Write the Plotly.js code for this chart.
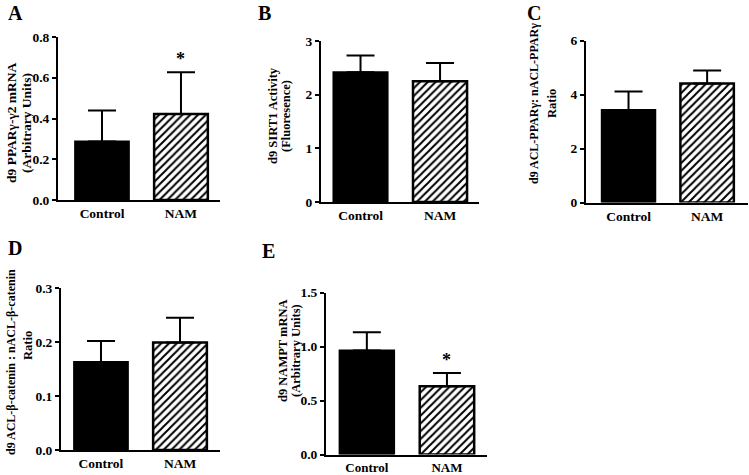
<!DOCTYPE html>
<html>
<head>
<meta charset="utf-8">
<script src="https://cdn.plot.ly/plotly-3.0.1.min.js"></script>
<style>html,body{margin:0;padding:0;background:#fff;}#chart{width:749px;height:475px;}</style>
</head>
<body>
<div id="chart"></div>
<script>
// ---- data ----
const groups = ['Control', 'NAM'];
const meanA = [0.287, 0.422];   // d9 PPARγ-γ2 mRNA
const semA  = [0.152, 0.205];
const meanB = [2.42, 2.25];     // d9 SIRT1 Activity
const semB  = [0.31, 0.34];
const meanC = [3.43, 4.41];     // d9 ACL-PPARγ : nACL-PPARγ ratio
const semC  = [0.68, 0.48];
const meanD = [0.163, 0.199];   // d9 ACL-β-catenin : nACL-β-catenin ratio
const semD  = [0.039, 0.046];
const meanE = [0.963, 0.631];   // d9 NAMPT mRNA
const semE  = [0.17, 0.123];
const yTicksA = [0, 0.2, 0.4, 0.6, 0.8];
const yTicksB = [0, 1, 2, 3];
const yTicksC = [0, 2, 4, 6];
const yTicksD = [0, 0.1, 0.2, 0.3];
const yTicksE = [0, 0.5, 1.0, 1.5];
const sigA = [false, true];
const sigE = [false, true];

// ---- styling ----
const W = 749, H = 475;
const FONT = 'Liberation Serif, Times New Roman, serif';
const px = v => v / W;
const py = v => 1 - v / H;

function barTraces(mean, sem, xa, ya) {
  const common = {type: 'bar', xaxis: xa, yaxis: ya, width: 0.68, showlegend: false, hoverinfo: 'skip'};
  const ctrl = Object.assign({}, common, {
    x: [0], y: [mean[0]],
    marker: {color: '#000000', line: {color: '#000000', width: 2}},
    error_y: {type: 'data', symmetric: false, array: [sem[0]], arrayminus: [0], color: '#000000', thickness: 2, width: 14}
  });
  const nam = Object.assign({}, common, {
    x: [1], y: [mean[1]],
    marker: {color: '#ffffff', line: {color: '#000000', width: 2.5},
             pattern: {shape: '/', fgcolor: '#000000', bgcolor: '#ffffff', size: 5.5, solidity: 0.35}},
    error_y: {type: 'data', symmetric: false, array: [sem[1]], arrayminus: [0], color: '#000000', thickness: 2, width: 14}
  });
  return [ctrl, nam];
}

function xAxis(domain, range, anchor, fs) {
  return {
    domain: domain, range: range, anchor: anchor,
    tickvals: [0, 1], ticktext: groups, ticks: '',
    showline: true, linecolor: '#000', linewidth: 2, showgrid: false, zeroline: false,
    tickfont: {family: FONT, size: fs, color: '#000', weight: 'bold'}, fixedrange: true
  };
}
function yAxis(domain, range, ticks, fmt, anchor) {
  return {
    domain: domain, range: range, anchor: anchor,
    tickvals: ticks, tickformat: fmt, ticks: 'outside', ticklen: 4, tickwidth: 2, tickcolor: '#000',
    showline: true, linecolor: '#000', linewidth: 2, showgrid: false, zeroline: false,
    tickfont: {family: FONT, size: 13.5, color: '#000', weight: 'bold'}, fixedrange: true
  };
}

const data = [].concat(
  barTraces(meanA, semA, 'x', 'y'),
  barTraces(meanB, semB, 'x2', 'y2'),
  barTraces(meanC, semC, 'x3', 'y3'),
  barTraces(meanD, semD, 'x4', 'y4'),
  barTraces(meanE, semE, 'x5', 'y5')
);

function vtitle(text, x, y, size) {
  return {text: text, xref: 'paper', yref: 'paper', x: px(x), y: py(y), xanchor: 'center', yanchor: 'middle',
          textangle: -90, showarrow: false, font: {family: FONT, size: size, color: '#000', weight: 'bold'}};
}
function letter(text, x, y) {
  return {text: text, xref: 'paper', yref: 'paper', x: px(x), y: py(y), xanchor: 'left', yanchor: 'middle',
          showarrow: false, font: {family: FONT, size: 20, color: '#000', weight: 'bold'}};
}
function stars(sig, mean, sem, xa, ya) {
  const out = [];
  sig.forEach((s, i) => {
    if (s) out.push({text: '*', x: i, y: mean[i] + sem[i], xref: xa, yref: ya, xanchor: 'center', yanchor: 'bottom',
                     yshift: 1, showarrow: false, font: {family: FONT, size: 18, color: '#000', weight: 'bold'}});
  });
  return out;
}

const annotations = [
  letter('A', 6, 13), letter('B', 256, 13), letter('C', 525, 13),
  letter('D', 6, 248), letter('E', 260, 251),
  vtitle('d9 PPARγ-γ2 mRNA', 12, 123, 13.5), vtitle('(Arbitrary Units)', 27, 123, 13.5),
  vtitle('d9 SIRT1 Activity', 273, 116, 12.5), vtitle('(Fluoresence)', 286, 116, 12.5),
  vtitle('d9 ACL-PPARγ: nACL-PPARγ', 534, 104, 12), vtitle('Ratio', 552, 104, 12.5),
  vtitle('d9 ACL-β-catenin : nACL-β-catenin', 11, 362, 12), vtitle('Ratio', 28, 345, 12.5),
  vtitle('d9 NAMPT mRNA', 283, 351, 12.5), vtitle('(Arbitrary Units)', 296, 351, 12.5)
].concat(stars(sigA, meanA, semA, 'x', 'y'), stars(sigE, meanE, semE, 'x5', 'y5'));

const layout = {
  width: W, height: H, margin: {l: 0, r: 0, t: 0, b: 0},
  paper_bgcolor: '#fff', plot_bgcolor: 'rgba(0,0,0,0)', showlegend: false, barmode: 'overlay',
  font: {family: FONT, color: '#000'},
  xaxis:  xAxis([px(58), px(220)], [-0.557, 1.494], 'y', 13.5),
  yaxis:  yAxis([py(200), py(37)], [0, 0.8], yTicksA, '.1f', 'x'),
  xaxis2: xAxis([px(321), px(479)], [-0.497, 1.49], 'y2', 13.5),
  yaxis2: yAxis([py(202), py(41)], [0, 3], yTicksB, 'd', 'x2'),
  xaxis3: xAxis([px(586), px(748)], [-0.541, 1.52], 'y3', 13.5),
  yaxis3: yAxis([py(202.5), py(40.5)], [0, 6], yTicksC, 'd', 'x3'),
  xaxis4: xAxis([px(61), px(220)], [-0.506, 1.506], 'y4', 13.5),
  yaxis4: yAxis([py(450), py(288)], [0, 0.3], yTicksD, '.1f', 'x4'),
  xaxis5: xAxis([px(326), px(487)], [-0.51, 1.5], 'y5', 13),
  yaxis5: yAxis([py(454.5), py(292.5)], [0, 1.5], yTicksE, '.1f', 'x5'),
  annotations: annotations
};

Plotly.newPlot('chart', data, layout, {displayModeBar: false, staticPlot: true});
</script>
</body>
</html>
